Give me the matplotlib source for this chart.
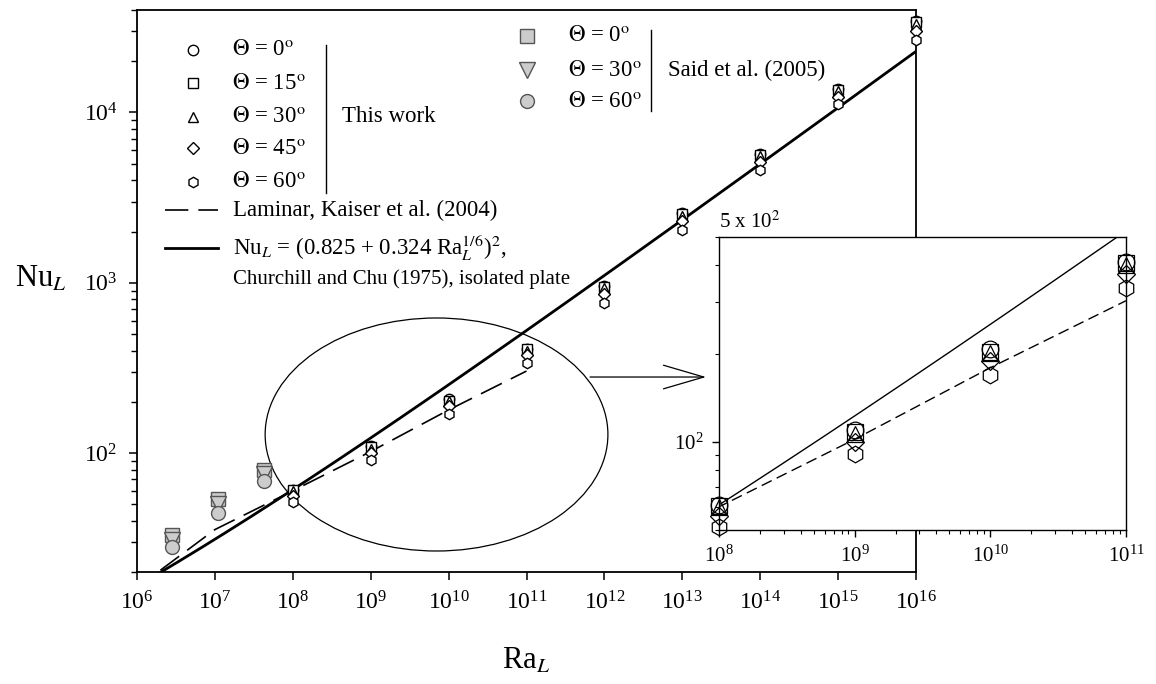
import numpy as np
import matplotlib
matplotlib.use('Agg')
from matplotlib import pyplot as plt
from matplotlib.patches import Ellipse
from matplotlib.ticker import LogLocator, NullLocator, FixedLocator, NullFormatter, LogFormatterMathtext

plt.rcParams['font.family'] = 'serif'
plt.rcParams['font.serif'] = ['Liberation Serif', 'DejaVu Serif']
plt.rcParams['mathtext.fontset'] = 'stix'

# present simulations, Nu_L for each inclination
ra = [1e8, 1e9, 1e10, 1e11, 1e12, 1e13, 1e14, 1e15, 1e16]
nu_0 = [61, 110, 207, 411, 960, 2560, 5700, 13700, 34500]
nu_15 = [60.5, 108, 203, 409, 950, 2530, 5650, 13600, 34000]
nu_30 = [60, 106, 201, 400, 930, 2480, 5550, 13300, 33000]
nu_45 = [56, 100, 188, 374, 860, 2300, 5150, 12300, 30000]
nu_60 = [51.3, 91, 169, 336, 760, 2030, 4600, 11200, 26500]

# Said et al. (2005)
ra_said = [2.8e6, 1.1e7, 4.3e7]
said_0 = [33, 54, 80]
said_30 = [31, 50, 75]
said_60 = [28, 44.6, 68.6]

# laminar correlation, Kaiser et al. (2004)
ra_lam = [2e6, 1e7, 1e8, 1e9, 1e10, 1e11]
nu_lam = [20.5, 35.5, 60, 102, 179, 303]

# Churchill and Chu (1975) isolated plate correlation
cc_a, cc_b = 0.825, 0.324
ra_cc = np.logspace(6, 16, 300)
nu_cc = (cc_a + cc_b * ra_cc ** (1.0 / 6.0)) ** 2

work = [('o', nu_0), ('s', nu_15), ('^', nu_30), ('D', nu_45), ('h', nu_60)]
work_labels = ['0', '15', '30', '45', '60']
said = [('s', said_0), ('v', said_30), ('o', said_60)]
said_labels = ['0', '30', '60']
msize = {'o': 7.5, 's': 7, 'D': 6, 'h': 7.5, '^': 7.5, 'v': 8.5}
lam_dash = (14, 6)

fig = plt.figure(figsize=(11.56, 6.84), dpi=100)
ax = fig.add_axes([0.1185, 0.1637, 0.6739, 0.8217])
ax.set_xscale('log')
ax.set_yscale('log')
ax.set_xlim(1e6, 1e16)
ax.set_ylim(20, 4e4)

ax.plot(ra_cc, nu_cc, color='black', lw=2.0, zorder=2)
ax.plot(ra_lam, nu_lam, color='black', lw=1.2, dashes=lam_dash, zorder=2)

for m, nu in work:
    ax.plot(ra, nu, ls='none', marker=m, ms=msize[m], mfc='white', mec='black',
            mew=1.0, clip_on=False, zorder=4)
for m, nu in said:
    ax.plot(ra_said, nu, ls='none', marker=m, ms=msize[m] + 2.5, mfc='#cccccc',
            mec='#555555', mew=1.0, clip_on=False, zorder=4)

ax.xaxis.set_major_locator(LogLocator(base=10, numticks=20))
ax.xaxis.set_minor_locator(NullLocator())
ax.xaxis.set_major_formatter(LogFormatterMathtext())
ax.yaxis.set_major_locator(FixedLocator([1e2, 1e3, 1e4]))
ax.yaxis.set_minor_locator(LogLocator(base=10, subs=np.arange(2, 10), numticks=20))
ax.yaxis.set_minor_formatter(NullFormatter())
ax.yaxis.set_major_formatter(LogFormatterMathtext())
ax.tick_params(which='major', direction='out', length=6, width=1.1, labelsize=17, pad=8)
ax.tick_params(which='minor', direction='out', length=4, width=1.0)
for s in ax.spines.values():
    s.set_linewidth(1.3)

ax.set_xlabel(r'Ra$_{L}$', fontsize=22, va='center')
ax.xaxis.set_label_coords(0.5, -0.158)
ax.set_ylabel(r'Nu$_{L}$', fontsize=22, rotation=0, va='center', ha='center')
ax.yaxis.set_label_coords(-0.123, 0.521)

# hand-built legend
leg_fs = 16.5
t = ax.transAxes
ys = [0.929, 0.870, 0.810, 0.754, 0.694]
for (m, nu), lab, y in zip(work, work_labels, ys):
    ax.plot([0.0719], [y], transform=t, ls='none', marker=m, ms=msize[m],
            mfc='white', mec='black', mew=1.0, clip_on=False)
    ax.text(0.122, y, r'$\Theta$ = ' + lab + r'$^{\rm o}$', transform=t,
            fontsize=leg_fs, va='center', ha='left')
ax.plot([0.2426, 0.2426], [0.674, 0.938], transform=t, color='black', lw=1.0)
ax.text(0.263, 0.810, 'This work', transform=t, fontsize=leg_fs, va='center')

ax.plot([0.036, 0.104], [0.644, 0.644], transform=t, color='black', lw=1.2, dashes=lam_dash)
ax.text(0.123, 0.644, 'Laminar, Kaiser et al. (2004)', transform=t,
        fontsize=leg_fs, va='center')
ax.plot([0.036, 0.104], [0.5765, 0.5765], transform=t, color='black', lw=2.0)
ax.text(0.123, 0.5765, r'Nu$_{L}$ = (0.825 + 0.324 Ra$_{L}^{1/6}$)$^{2}$,',
        transform=t, fontsize=leg_fs, va='center')
ax.text(0.123, 0.521, 'Churchill and Chu (1975), isolated plate', transform=t,
        fontsize=15, va='center')

ys = [0.954, 0.893, 0.838]
for (m, nu), lab, y in zip(said, said_labels, ys):
    ax.plot([0.5006], [y], transform=t, ls='none', marker=m, ms=msize[m] + 2.5,
            mfc='#cccccc', mec='#555555', mew=1.0, clip_on=False)
    ax.text(0.553, y, r'$\Theta$ = ' + lab + r'$^{\rm o}$', transform=t,
            fontsize=leg_fs, va='center', ha='left')
ax.plot([0.660, 0.660], [0.820, 0.964], transform=t, color='black', lw=1.0)
ax.text(0.682, 0.893, 'Said et al. (2005)', transform=t, fontsize=leg_fs, va='center')

# zoom region and arrow to the inset
ax.add_patch(Ellipse((0.3845, 0.2447), 0.440, 0.4146, transform=t,
                     fill=False, ec='black', lw=0.9, zorder=3))
ax.annotate('', xy=(0.6107, 0.4488), xytext=(0.5104, 0.4488),
            xycoords='figure fraction', textcoords='figure fraction',
            arrowprops=dict(arrowstyle='->,head_length=2.9,head_width=0.85',
                            lw=0.9, color='black', shrinkA=0, shrinkB=0))

# inset: 1e8 <= Ra <= 1e11
axins = fig.add_axes([0.622, 0.2251, 0.352, 0.4284])
axins.set_xscale('log')
axins.set_yscale('log')
axins.set_xlim(1e8, 1e11)
axins.set_ylim(50, 500)
axins.plot(ra_cc, nu_cc, color='black', lw=1.0)
axins.plot(ra_lam, nu_lam, color='black', lw=1.0, dashes=(8, 4))
for m, nu in work:
    axins.plot(ra[:4], nu[:4], ls='none', marker=m, ms=msize[m] * 1.6,
               mfc='none', mec='black', mew=0.9, clip_on=False, zorder=4)
axins.xaxis.set_major_locator(LogLocator(base=10, numticks=10))
axins.xaxis.set_minor_locator(LogLocator(base=10, subs=np.arange(2, 10), numticks=10))
axins.xaxis.set_major_formatter(LogFormatterMathtext())
axins.xaxis.set_minor_formatter(NullFormatter())
axins.yaxis.set_major_locator(FixedLocator([100]))
axins.yaxis.set_major_formatter(LogFormatterMathtext())
axins.yaxis.set_minor_locator(LogLocator(base=10, subs=np.arange(2, 10), numticks=10))
axins.yaxis.set_minor_formatter(NullFormatter())
axins.tick_params(which='major', direction='out', length=5, width=1.0, labelsize=15, pad=6)
axins.tick_params(which='minor', direction='out', length=3, width=0.8)
for s in axins.spines.values():
    s.set_linewidth(1.0)
axins.text(0.0, 1.015, r'5 x 10$^{2}$', transform=axins.transAxes, fontsize=15,
           ha='left', va='bottom')

fig.savefig('out.png', dpi=100)
